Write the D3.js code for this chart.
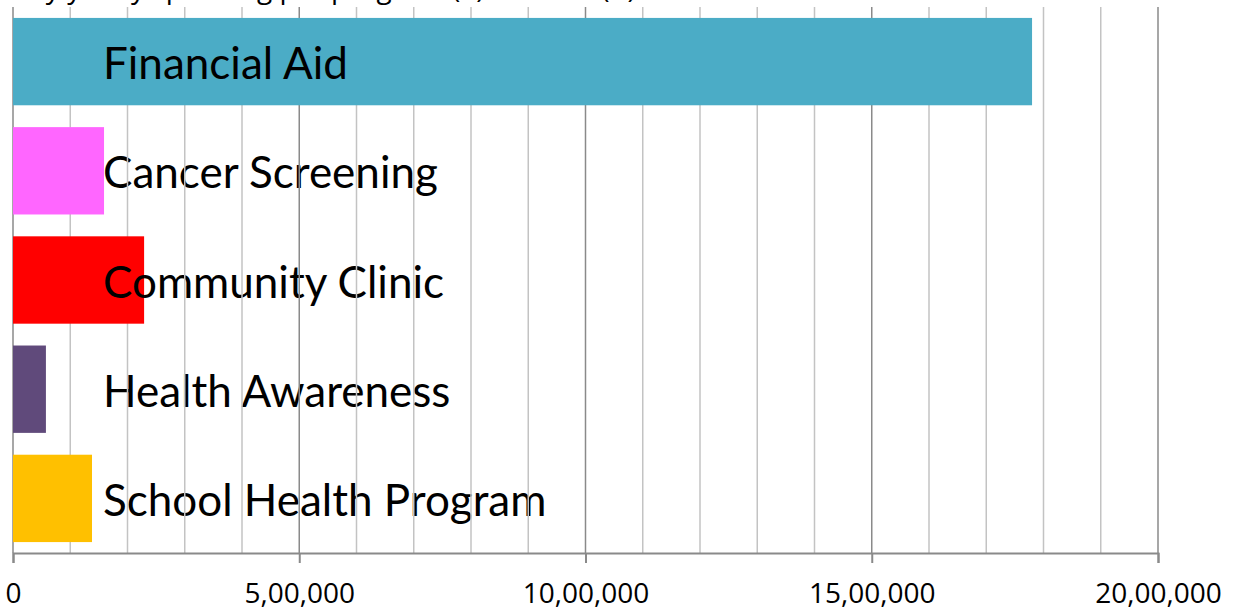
<!DOCTYPE html>
<html>
<head>
<meta charset="utf-8">
<script src="https://cdn.jsdelivr.net/npm/d3@7"></script>
<style>
  body { margin: 0; background: #fff; }
  svg { display: block; }
</style>
</head>
<body>
<svg id="chart" width="1233" height="615"></svg>
<script>
// values (rupees)
const categories = ["Financial Aid", "Cancer Screening", "Community Clinic", "Health Awareness", "School Health Program"];
const amounts = [1780000, 159000, 229000, 57500, 138000];
const barColors = ["#4BACC6", "#FF66FF", "#FF0000", "#604A7B", "#FFC000"];
const majorTicks = [0, 500000, 1000000, 1500000, 2000000];
const title = "Key yearly spending per program (₹) & count (#)";

const W = 1233, H = 615;
const margin = {top: 7, right: 75, bottom: 62, left: 13};

const svg = d3.select("#chart");

const x = d3.scaleLinear()
    .domain([0, 2000000])
    .range([margin.left, W - margin.right]);

const y = d3.scaleBand()
    .domain(categories)
    .range([margin.top, H - margin.bottom])
    .paddingInner(0.2)
    .paddingOuter(0.1);

const rows = categories.map((c, i) => ({name: c, value: amounts[i], color: barColors[i]}));

// indian digit grouping: 20,00,000
function indian(v) {
  const s = String(Math.round(v));
  if (s.length <= 3) return s;
  const last = s.slice(-3);
  let rest = s.slice(0, -3);
  rest = rest.replace(/\B(?=(\d{2})+(?!\d))/g, ",");
  return rest + "," + last;
}

// title, mostly out of frame at the top
svg.append("text")
    .attr("x", margin.left)
    .attr("y", -2)
    .style("font", "28px 'Open Sans', sans-serif")
    .attr("fill", "#000")
    .text(title);

const labelX = 103;
function drawLabels(g) {
  g.selectAll("text")
    .data(rows)
    .join("text")
      .attr("x", labelX)
      .attr("y", d => y(d.name) + y.bandwidth() / 2)
      .attr("dy", "0.4em")
      .style("font", "44px Lato, sans-serif")
      .attr("fill", "#000")
      .text(d => d.name);
}

// labels sit under the grid
drawLabels(svg.append("g"));

// grid
const minorTicks = d3.range(0, 2000001, 100000);
svg.append("g")
  .selectAll("line")
  .data(minorTicks)
  .join("line")
    .attr("x1", d => x(d)).attr("x2", d => x(d))
    .attr("y1", margin.top).attr("y2", H - margin.bottom)
    .attr("stroke", d => d % 500000 === 0 ? "#8a8a8a" : "#c3c3c3")
    .attr("stroke-width", 1.5);

// bars
svg.append("g")
  .selectAll("rect")
  .data(rows)
  .join("rect")
    .attr("x", x(0))
    .attr("y", d => y(d.name))
    .attr("width", d => x(d.value) - x(0))
    .attr("height", y.bandwidth())
    .attr("fill", d => d.color);

// labels again, only where they cross a bar
const clip = svg.append("defs").append("clipPath").attr("id", "barclip");
clip.selectAll("rect")
  .data(rows)
  .join("rect")
    .attr("x", x(0))
    .attr("y", d => y(d.name))
    .attr("width", d => x(d.value) - x(0))
    .attr("height", y.bandwidth());
drawLabels(svg.append("g").attr("clip-path", "url(#barclip)"));

// x axis
const axis = d3.axisBottom(x)
    .tickValues(majorTicks)
    .tickSize(10)
    .tickPadding(20)
    .tickFormat(indian);

const ax = svg.append("g")
    .attr("transform", `translate(0,${H - margin.bottom})`)
    .call(axis);
ax.select(".domain").attr("stroke", "#8a8a8a").attr("stroke-width", 2);
ax.selectAll(".tick line").attr("stroke", "#8a8a8a").attr("stroke-width", 2);
ax.selectAll(".tick text")
    .style("font", "28px 'Open Sans', sans-serif")
    .attr("fill", "#000");
</script>
</body>
</html>
